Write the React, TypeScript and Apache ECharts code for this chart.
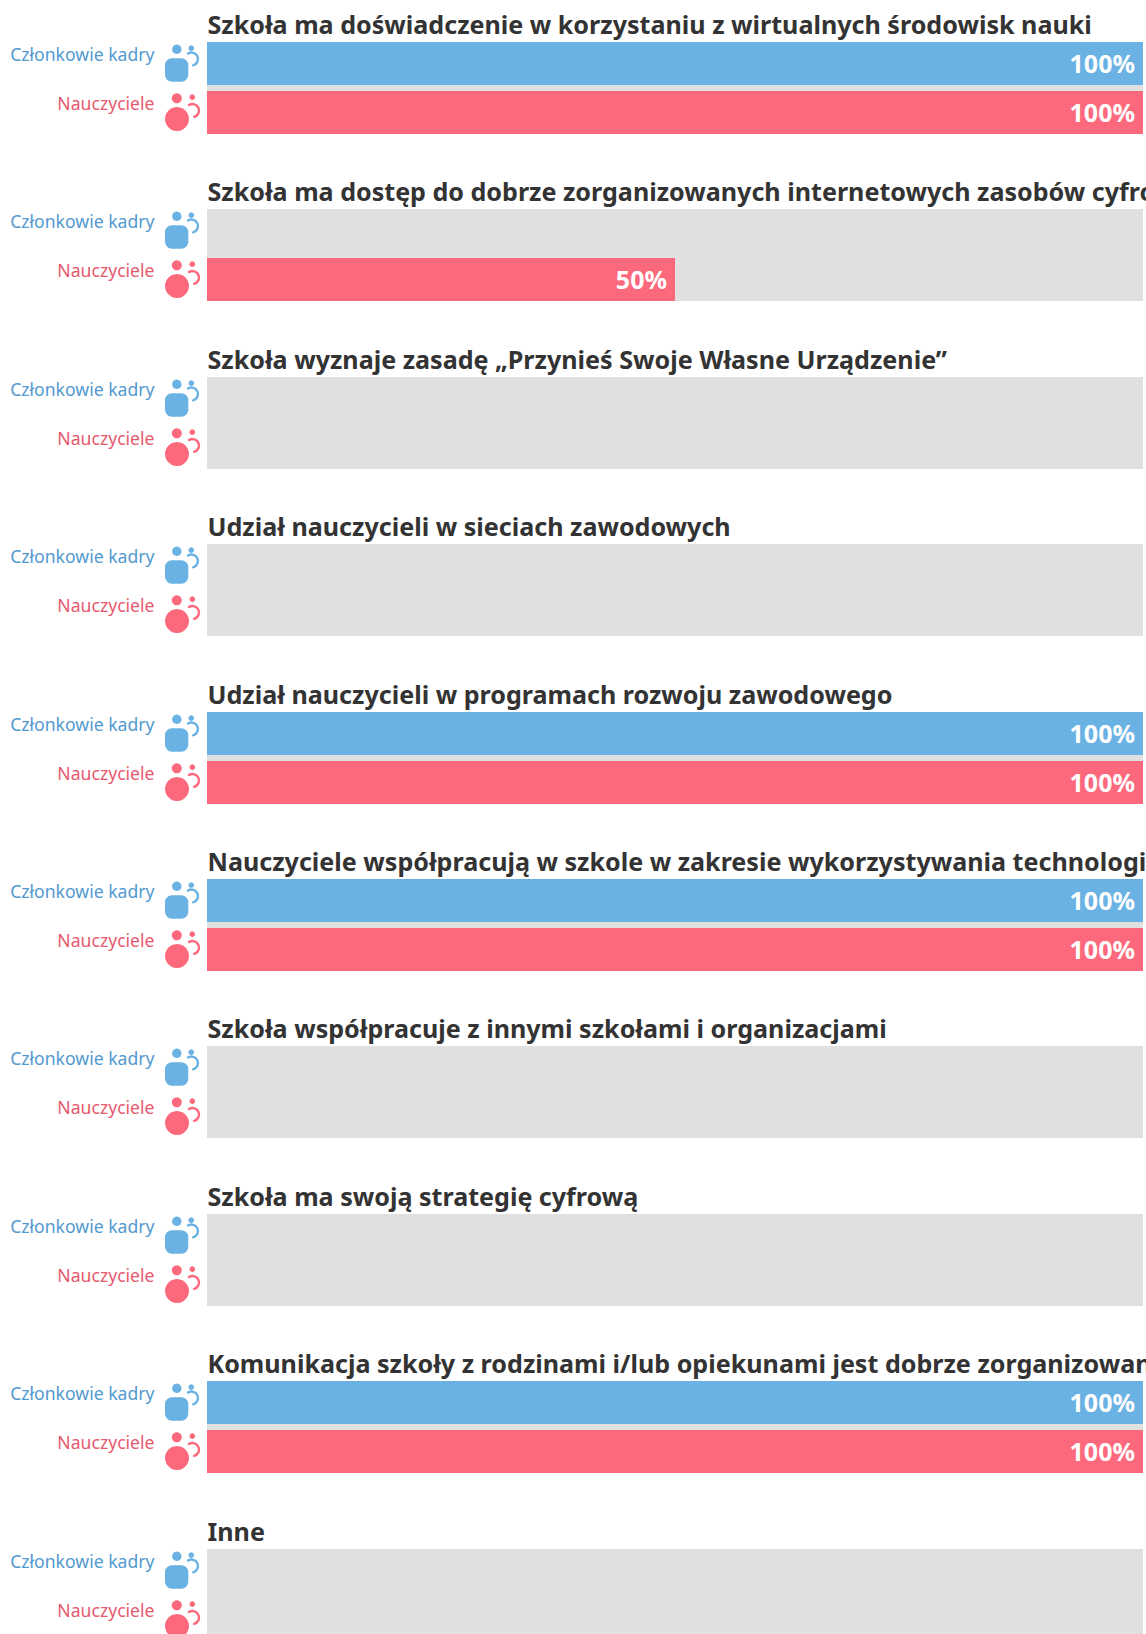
import React, { useEffect, useRef } from "react";
import * as echarts from "echarts";

const questions = [
  "Szkoła ma doświadczenie w korzystaniu z wirtualnych środowisk nauki",
  "Szkoła ma dostęp do dobrze zorganizowanych internetowych zasobów cyfrowych",
  "Szkoła wyznaje zasadę „Przynieś Swoje Własne Urządzenie”",
  "Udział nauczycieli w sieciach zawodowych",
  "Udział nauczycieli w programach rozwoju zawodowego",
  "Nauczyciele współpracują w szkole w zakresie wykorzystywania technologii",
  "Szkoła współpracuje z innymi szkołami i organizacjami",
  "Szkoła ma swoją strategię cyfrową",
  "Komunikacja szkoły z rodzinami i/lub opiekunami jest dobrze zorganizowana",
  "Inne",
];
const staffValues = [100, 0, 0, 0, 100, 100, 0, 0, 100, 0];
const teacherValues = [100, 50, 0, 0, 100, 100, 0, 0, 100, 0];
const staffName = "Członkowie kadry";
const teacherName = "Nauczyciele";

const FONT = "Noto Sans";
const BLUE = "#6ab2e3";
const RED = "#fd697c";
const BLUE_TEXT = "#5299cf";
const RED_TEXT = "#e65a6e";
const GAP = 167.4;
const TOP = 42;
const LEFT = 207;
const BAR_W = 936;

function icon(kind: "staff" | "teacher", y: number) {
  const staff = kind === "staff";
  const color = staff ? BLUE : RED;
  const parts: any[] = [
    { type: "circle", shape: { cx: 176.8, cy: y + 7.3, r: staff ? 4.7 : 5 }, style: { fill: color } },
    {
      type: "circle",
      shape: { cx: staff ? 191.3 : 192.3, cy: y + 6.2, r: 2.8 },
      style: { fill: color },
    },
    {
      type: "arc",
      shape: {
        cx: staff ? 191.5 : 192.5,
        cy: y + (staff ? 17 : 19.5),
        r: 6.5,
        startAngle: -Math.PI * 0.68,
        endAngle: Math.PI * 0.42,
      },
      style: { stroke: color, fill: "none", lineWidth: 2.4, lineCap: "round" },
    },
  ];
  parts.push(
    staff
      ? { type: "rect", shape: { x: 165, y: y + 16.3, width: 23.3, height: 23.4, r: 7 }, style: { fill: color } }
      : { type: "circle", shape: { cx: 177, cy: y + 28, r: 12 }, style: { fill: color } },
  );
  return parts;
}

export default function App() {
  const ref = useRef<HTMLDivElement>(null);
  useEffect(() => {
    document.body.style.margin = "0";
    document.body.style.overflow = "hidden";
    const chart = echarts.init(ref.current!, undefined, { renderer: "svg" });
    const label = {
      show: true,
      position: "insideRight" as const,
      distance: 8,
      offset: [0, -0.5],
      color: "#fff",
      fontFamily: FONT,
      fontWeight: 700,
      fontSize: 25,
      formatter: (p: any) => (p.value > 0 ? `${p.value}%` : ""),
    };
    const graphics: any[] = [];
    questions.forEach((q, i) => {
      const t = Math.round(TOP + i * GAP);
      graphics.push({
        type: "text",
        x: LEFT + 0.5,
        y: t - 18,
        style: { text: q, fill: "#333333", font: `700 25.1px "${FONT}"`, textVerticalAlign: "middle" },
      });
      graphics.push({
        type: "text",
        x: 154.5,
        y: t + 12,
        style: { text: staffName, fill: BLUE_TEXT, font: `17.6px "${FONT}"`, textAlign: "right", textVerticalAlign: "middle" },
      });
      graphics.push({
        type: "text",
        x: 154.5,
        y: t + 61,
        style: { text: teacherName, fill: RED_TEXT, font: `17.6px "${FONT}"`, textAlign: "right", textVerticalAlign: "middle" },
      });
      graphics.push(...icon("staff", t));
      graphics.push(...icon("teacher", t + 49));
    });
    chart.setOption({
      animation: false,
      grid: questions.map((_, i) => ({
        show: true,
        left: LEFT,
        width: BAR_W,
        top: Math.round(TOP + i * GAP),
        height: 92,
        backgroundColor: "#e0e0e0",
        borderWidth: 0,
      })),
      xAxis: questions.map((_, i) => ({ type: "value", gridIndex: i, min: 0, max: 100, show: false })),
      yAxis: questions.map((q, i) => ({ type: "category", gridIndex: i, data: [q], inverse: true, show: false })),
      series: questions.flatMap((q, i) => [
        { type: "bar", name: staffName, xAxisIndex: i, yAxisIndex: i, data: [staffValues[i]], barWidth: 43, barGap: "13.95%", itemStyle: { color: BLUE }, label },
        { type: "bar", name: teacherName, xAxisIndex: i, yAxisIndex: i, data: [teacherValues[i]], barWidth: 43, barGap: "13.95%", itemStyle: { color: RED }, label },
      ]),
      graphic: graphics,
    });
    return () => chart.dispose();
  }, []);
  return <div ref={ref} style={{ width: 1146, height: 1634 }} />;
}
